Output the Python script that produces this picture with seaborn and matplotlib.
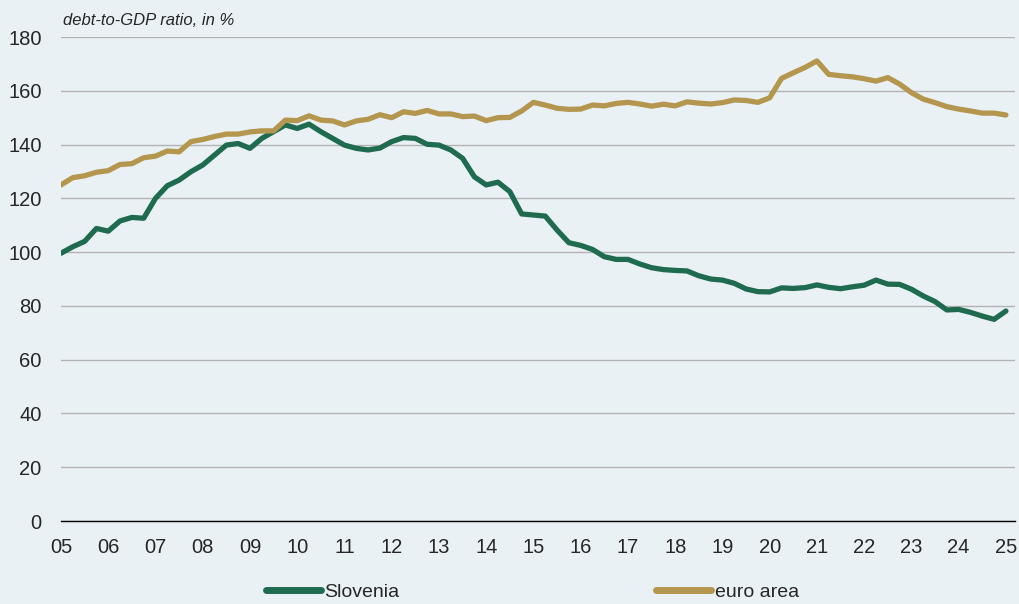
import numpy as np
import pandas as pd
import matplotlib
matplotlib.use("Agg")
import matplotlib.pyplot as plt
import seaborn as sns

# -----------------------------
# Data: quarterly, 2005Q1 .. 2025Q1 (debt-to-GDP, %)
# -----------------------------
START_YEAR = 2005
SLOVENIA = [
    99.6, 102.0, 104.0, 108.8, 107.8, 111.6, 112.9, 112.6,
    120.0, 124.7, 126.8, 129.9, 132.4, 136.1, 139.8, 140.4,
    138.6, 142.3, 144.8, 147.3, 146.0, 147.6, 144.8, 142.3,
    139.8, 138.6, 138.0, 138.7, 141.1, 142.6, 142.3, 140.1,
    139.8, 138.0, 134.9, 128.0, 125.0, 126.0, 122.5, 114.2,
    113.8, 113.4, 108.2, 103.5, 102.5, 101.0, 98.3, 97.3,
    97.3, 95.6, 94.2, 93.5, 93.2, 93.0, 91.2, 90.0,
    89.6, 88.4, 86.3, 85.3, 85.2, 86.7, 86.5, 86.8,
    87.8, 86.9, 86.4, 87.1, 87.7, 89.6, 88.1, 88.0,
    86.2, 83.7, 81.6, 78.5, 78.7, 77.6, 76.2, 75.0,
    78.1,
]
EURO_AREA = [
    125.0, 127.7, 128.4, 129.7, 130.3, 132.6, 132.9, 135.1,
    135.7, 137.6, 137.3, 141.1, 141.9, 143.0, 143.9, 143.9,
    144.7, 145.1, 145.1, 149.1, 148.9, 150.7, 149.1, 148.8,
    147.3, 148.8, 149.4, 151.1, 150.0, 152.2, 151.6, 152.7,
    151.4, 151.4, 150.4, 150.6, 148.9, 150.0, 150.1, 152.5,
    155.7, 154.7, 153.5, 153.1, 153.2, 154.7, 154.4, 155.3,
    155.7, 155.1, 154.3, 155.0, 154.4, 155.9, 155.4, 155.1,
    155.6, 156.6, 156.4, 155.7, 157.4, 164.6, 166.7, 168.7,
    171.1, 166.1, 165.6, 165.2, 164.5, 163.6, 164.9, 162.5,
    159.3, 156.9, 155.6, 154.1, 153.2, 152.5, 151.7, 151.7,
    151.0,
]
SERIES_NAMES = ["Slovenia", "euro area"]
COLORS = ["#1f6b50", "#b5964e"]
YEAR_TICKS = list(range(2005, 2026))
Y_TICKS = list(range(0, 181, 20))

BG = "#e9f1f5"
FONT = ["Liberation Sans", "DejaVu Sans"]


def build_frame():
    n = len(SLOVENIA)
    t = START_YEAR + np.arange(n) / 4.0
    df = pd.DataFrame({"time": t, "Slovenia": SLOVENIA, "euro area": EURO_AREA})
    return df.melt(id_vars="time", var_name="series", value_name="ratio")


def main():
    sns.set_style("white")
    plt.rcParams["font.family"] = FONT

    df = build_frame()

    fig = plt.figure(figsize=(10.2, 6.04), dpi=100, facecolor=BG)
    ax = fig.add_axes([0.0598, 0.1374, 0.9352, 0.8013])
    ax.set_facecolor(BG)

    sns.lineplot(
        data=df, x="time", y="ratio", hue="series",
        hue_order=SERIES_NAMES, palette=COLORS,
        linewidth=3.8, ax=ax, legend=False,
    )

    ax.set_xlim(2005, 2025.19)
    ax.set_ylim(0, 180)
    ax.set_yticks(Y_TICKS)
    ax.set_xticks(YEAR_TICKS)
    ax.set_xticklabels([f"{y % 100:02d}" for y in YEAR_TICKS])
    ax.set_xlabel("")
    ax.set_ylabel("")

    ax.grid(axis="y", color="#b3b3b3", linewidth=1.0)
    ax.grid(axis="x", visible=False)
    ax.set_axisbelow(True)
    for side in ["top", "right", "left"]:
        ax.spines[side].set_visible(False)
    ax.spines["bottom"].set_color("black")
    ax.spines["bottom"].set_linewidth(1.0)

    ax.tick_params(axis="y", length=0, pad=14, labelsize=14.5)
    ax.tick_params(axis="x", direction="out", length=6, width=1.0,
                   color="black", pad=6, labelsize=14.5)

    ax.text(0.002, 1.035, "debt-to-GDP ratio, in %", transform=ax.transAxes,
            fontsize=12, style="italic", ha="left", va="center")

    handles = [plt.Line2D([], [], color=c, linewidth=5, solid_capstyle="round")
               for c in COLORS]
    fig.legend(handles, SERIES_NAMES, loc="center", bbox_to_anchor=(0.522, 0.02),
               ncol=2, frameon=False, fontsize=14, handlelength=2.8,
               handletextpad=0.2, columnspacing=13.2)

    fig.savefig("out.png", dpi=100, facecolor=BG)
    plt.close(fig)


if __name__ == "__main__":
    main()
